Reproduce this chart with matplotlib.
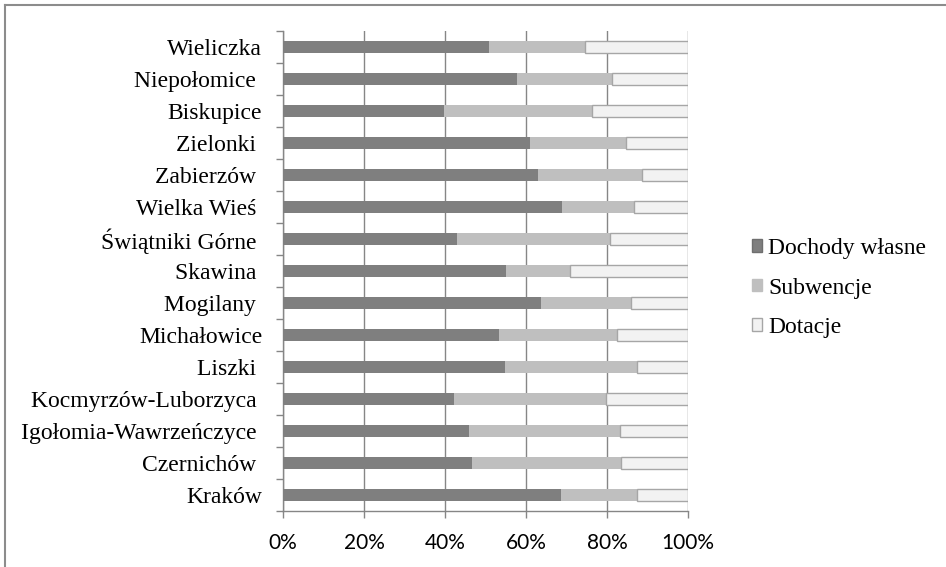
import matplotlib
matplotlib.use("Agg")
import matplotlib.pyplot as plt
from matplotlib.lines import Line2D
from matplotlib.patches import Patch
from matplotlib.ticker import PercentFormatter, FixedLocator

# categories bottom -> top
gminy = ["Kraków", "Czernichów ", "Igołomia-Wawrzeńczyce ", "Kocmyrzów-Luborzyca ",
         "Liszki ", "Michałowice", "Mogilany ", "Skawina ", "Świątniki Górne ",
         "Wielka Wieś ", "Zabierzów ", "Zielonki ", "Biskupice", "Niepołomice ",
         "Wieliczka"]
dochody = [68.6, 46.6, 46.0, 42.1, 54.9, 53.4, 63.7, 55.1, 43.0, 68.9, 63.0, 61.0, 39.7, 57.8, 50.9]
subwencje = [18.7, 36.8, 37.2, 37.6, 32.4, 29.0, 22.2, 15.8, 37.7, 17.7, 25.7, 23.8, 36.5, 23.5, 23.6]
dotacje = [12.7, 16.6, 16.8, 20.3, 12.7, 17.6, 14.1, 29.1, 19.3, 13.4, 11.3, 15.2, 23.8, 18.7, 25.5]
serie = ["Dochody własne", "Subwencje", "Dotacje"]

kol1, kol2, kol3 = "#7f7f7f", "#bfbfbf", "#f2f2f2"
grid_c = "#868686"
SERIF = "Liberation Serif"
FS = 17

fig = plt.figure(figsize=(9.46, 5.67), dpi=100)
ax = fig.add_axes([283 / 946, 56 / 567, 405 / 946, 480 / 567])

y = range(len(gminy))
left3 = [a + b for a, b in zip(dochody, subwencje)]
ax.barh(y, dochody, height=0.4, color=kol1, zorder=3)
ax.barh(y, subwencje, left=dochody, height=0.4, color=kol2, zorder=3)
ax.barh(y, dotacje, left=left3, height=0.4, color=kol3, edgecolor="#a6a6a6",
        linewidth=1, zorder=3)

ax.set_xlim(0, 100)
ax.set_ylim(-0.5, len(gminy) - 0.5)
ax.xaxis.set_major_formatter(PercentFormatter(xmax=100, decimals=0))
ax.set_xticks([0, 20, 40, 60, 80, 100])
ax.grid(axis="x", color=grid_c, linewidth=1, zorder=0)

ax.set_yticks(list(y))
ax.set_yticklabels(gminy, fontfamily=SERIF, fontsize=FS)
ax.yaxis.set_minor_locator(FixedLocator([i - 0.5 for i in range(len(gminy) + 1)]))
ax.tick_params(axis="y", which="major", length=0, pad=15)
ax.tick_params(axis="y", which="minor", length=5, color=grid_c, width=1)
ax.tick_params(axis="x", length=5, color=grid_c, width=1, pad=11)
for lab in ax.get_xticklabels():
    lab.set_fontfamily("Lato")
    lab.set_fontsize(15)

for s in ["top", "right"]:
    ax.spines[s].set_visible(False)
for s in ["left", "bottom"]:
    ax.spines[s].set_color(grid_c)
    ax.spines[s].set_linewidth(1)

handles = [Patch(facecolor=kol1, edgecolor="#6f6f6f"),
           Patch(facecolor=kol2, edgecolor=kol2),
           Patch(facecolor=kol3, edgecolor="#a6a6a6")]
leg = fig.legend(handles, serie, loc="upper left", bbox_to_anchor=(0.795, 0.58),
                 frameon=False, borderpad=0, borderaxespad=0, handlelength=0.44,
                 handleheight=0.44, handletextpad=0.23, labelspacing=0.78,
                 fontsize=FS)
for t in leg.get_texts():
    t.set_fontfamily(SERIF)

# outer frame (cropped chart area)
fig.add_artist(Line2D([4.5 / 946, 4.5 / 946], [0, 1 - 5 / 567], color="#8c8c8c",
                      linewidth=1.5, transform=fig.transFigure))
fig.add_artist(Line2D([4.5 / 946, 1], [1 - 5 / 567, 1 - 5 / 567], color="#8c8c8c",
                      linewidth=1.5, transform=fig.transFigure))

fig.savefig("out.png", dpi=100)
